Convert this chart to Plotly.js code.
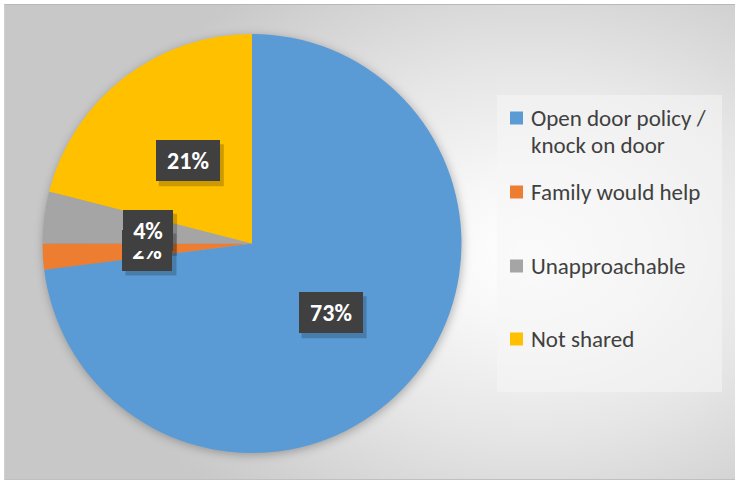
<!DOCTYPE html>
<html>
<head>
<meta charset="utf-8">
<script src="https://cdn.plot.ly/plotly-3.0.1.min.js"></script>
<style>
  html, body { margin: 0; padding: 0; background: #ffffff; }
  #wrap { position: relative; width: 735px; height: 483px; overflow: hidden; background: #ffffff; }
  #bg { position: absolute; left: 4px; top: 4px; width: 731px; height: 476px;
        box-sizing: border-box; border-top: 1px solid #b8b8b8; border-left: 1px solid #d0d0d0; border-bottom: 1px solid #c0c0c0;
        background: radial-gradient(ellipse 62% 70% at 72% 52%, #ffffff 0%, #f7f7f7 22%, #e6e6e6 55%, #d2d2d2 85%, #c8c8c8 100%); }
  #chart { position: absolute; left: 0; top: 0; width: 735px; height: 483px; }
  #chart .pielayer { filter: drop-shadow(1px 2px 5px rgba(0,0,0,0.28)); }
</style>
</head>
<body>
<div id="wrap"><div id="bg"></div><div id="chart"></div></div>
<script>
// ---- data ----
const categories = ["Open door policy / knock on door", "Family would help", "Unapproachable", "Not shared"];
const legendLines = [["Open door policy /", "knock on door"], ["Family would help"], ["Unapproachable"], ["Not shared"]];
const values = [73, 2, 4, 21];
const colors = ["#5B9BD5", "#ED7D31", "#A5A5A5", "#FFC000"];

const W = 735, H = 483;
const FONT = "Carlito, Calibri, Lato, 'DejaVu Sans', sans-serif";
const dom = { x: [42 / W, 462 / W], y: [(H - 453) / H, (H - 34) / H] };

const trace = {
  type: "pie",
  labels: categories,
  values: values,
  sort: false,
  direction: "clockwise",
  rotation: 0,
  marker: { colors: colors, line: { width: 0 } },
  textinfo: "none",
  hoverinfo: "label+percent",
  showlegend: false,
  domain: dom
};

// pie geometry (pixels), used to place the data labels at half radius on each slice bisector
const cx = (dom.x[0] + dom.x[1]) / 2 * W;
const cy = (1 - (dom.y[0] + dom.y[1]) / 2) * H;
const R = Math.min((dom.x[1] - dom.x[0]) * W, (dom.y[1] - dom.y[0]) * H) / 2;
const total = values.reduce((a, b) => a + b, 0);

const shapes = [];
const annotations = [];

// legend background box
shapes.push({
  type: "rect", xref: "paper", yref: "paper",
  x0: 497 / W, x1: 722 / W, y0: 1 - 392 / H, y1: 1 - 95 / H,
  fillcolor: "rgba(245,245,245,0.55)", line: { width: 0 }, layer: "below"
});

let cum = 0;
values.forEach((v, i) => {
  const mid = (cum + v / 2) / total * 2 * Math.PI;
  cum += v;
  const px = cx + 0.5 * R * Math.sin(mid);
  const py = cy - 0.5 * R * Math.cos(mid);
  const txt = Math.round(v / total * 100) + "%";
  const w = 14 * txt.length + 22, h = 41;
  // soft shadow behind the label box
  shapes.push({
    type: "rect", xref: "paper", yref: "paper", layer: "above",
    x0: (px - w / 2 + 3) / W, x1: (px + w / 2 + 4) / W,
    y0: 1 - (py + h / 2 + 5) / H, y1: 1 - (py - h / 2 + 4) / H,
    fillcolor: "rgba(0,0,0,0.20)", line: { width: 0 }
  });
  annotations.push({
    xref: "paper", yref: "paper", x: px / W, y: 1 - py / H,
    xanchor: "center", yanchor: "middle", showarrow: false,
    text: "<b>" + txt + "</b>", width: w, height: h, borderpad: 0, borderwidth: 0,
    bgcolor: "#404040",
    font: { family: FONT, size: 24, color: "#ffffff" }
  });
});

// legend drawn as shapes + text annotations
const legendY = [118, 192, 266, 339];
const lineGap = 27;
categories.forEach((c, i) => {
  const y = legendY[i];
  shapes.push({
    type: "rect", xref: "paper", yref: "paper",
    x0: 510 / W, x1: 523 / W, y0: 1 - (y + 6.5) / H, y1: 1 - (y - 6.5) / H,
    fillcolor: colors[i], line: { width: 0 }
  });
  legendLines[i].forEach((ln, k) => {
    annotations.push({
      xref: "paper", yref: "paper", x: 529 / W, y: 1 - (y + k * lineGap) / H,
      xanchor: "left", yanchor: "middle", align: "left", showarrow: false,
      text: ln,
      font: { family: FONT, size: 23, color: "#404040" }
    });
  });
});

const layout = {
  width: W, height: H,
  margin: { l: 0, r: 0, t: 0, b: 0 },
  paper_bgcolor: "rgba(0,0,0,0)",
  plot_bgcolor: "rgba(0,0,0,0)",
  showlegend: false,
  shapes: shapes,
  annotations: annotations
};

Plotly.newPlot("chart", [trace], layout, { displayModeBar: false, staticPlot: true });
</script>
</body>
</html>
